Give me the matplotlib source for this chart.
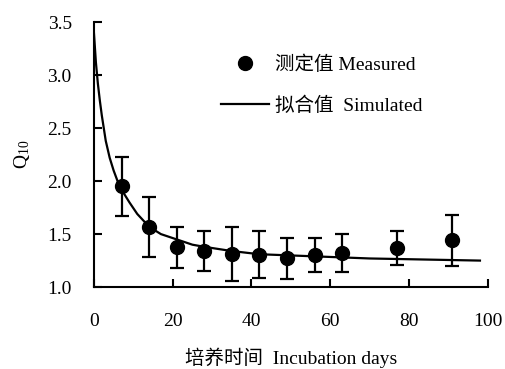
import matplotlib
matplotlib.use("Agg")
import matplotlib.pyplot as plt
from matplotlib.lines import Line2D

plt.rcParams['font.family'] = ['Liberation Serif', 'Noto Sans CJK SC']
plt.rcParams['mathtext.default'] = 'regular'

# measured Q10 with error bars
dias = [7, 14, 21, 28, 35, 42, 49, 56, 63, 77, 91]
q10 = [1.95, 1.57, 1.38, 1.34, 1.31, 1.30, 1.27, 1.30, 1.32, 1.37, 1.44]
err_sup = [2.23, 1.85, 1.57, 1.53, 1.57, 1.53, 1.46, 1.46, 1.50, 1.53, 1.68]
err_inf = [1.67, 1.28, 1.18, 1.15, 1.06, 1.09, 1.08, 1.14, 1.14, 1.21, 1.20]

# fitted curve
dias_sim = [0, 0.5, 1, 1.5, 2, 3, 4, 5, 6, 7, 9, 11, 14, 17, 21, 25, 28,
            35, 42, 49, 56, 63, 70, 77, 84, 91, 98]
q10_sim = [3.40, 3.12, 2.92, 2.76, 2.62, 2.38, 2.22, 2.10, 2.00, 1.92, 1.80,
           1.69, 1.57, 1.50, 1.45, 1.40, 1.38, 1.34, 1.31, 1.30, 1.29, 1.28,
           1.27, 1.265, 1.26, 1.255, 1.25]

yerr = [[v - lo for v, lo in zip(q10, err_inf)],
        [hi - v for v, hi in zip(q10, err_sup)]]

fig = plt.figure(figsize=(5.05, 3.69), dpi=100)
ax = fig.add_axes([0.186, 0.222, 0.780, 0.718])

ax.plot(dias_sim, q10_sim, color='black', lw=1.6)
ax.errorbar(dias, q10, yerr=yerr, fmt='o', color='black', ms=10,
            elinewidth=1.6, capsize=5, capthick=1.6)

ax.set_xlim(0, 100)
ax.set_ylim(1.0, 3.5)
ax.set_xticks([0, 20, 40, 60, 80, 100])
ax.set_yticks([1.0, 1.5, 2.0, 2.5, 3.0, 3.5])
ax.set_yticklabels(['1.0', '1.5', '2.0', '2.5', '3.0', '3.5'])
ax.tick_params(direction='in', length=6, width=1.5, labelsize=14)
ax.tick_params(axis='x', pad=19)
ax.tick_params(axis='y', pad=16)
for s in ['top', 'right']:
    ax.spines[s].set_visible(False)
for s in ['left', 'bottom']:
    ax.spines[s].set_linewidth(1.5)

ax.set_xlabel('培养时间  Incubation days', fontsize=14, labelpad=12)
ax.set_ylabel('Q$_{10}$', fontsize=14, labelpad=11)

handles = [Line2D([], [], ls='none', marker='o', ms=10, color='black'),
           Line2D([], [], color='black', lw=1.6)]
labels = ['测定值 Measured', '拟合值  Simulated']
ax.legend(handles, labels, loc='upper left', bbox_to_anchor=(0.322, 0.874),
          frameon=False, fontsize=14, handlelength=2.5, handletextpad=0.3,
          labelspacing=1.15, borderpad=0, borderaxespad=0)

plt.savefig('out.png', dpi=100)
